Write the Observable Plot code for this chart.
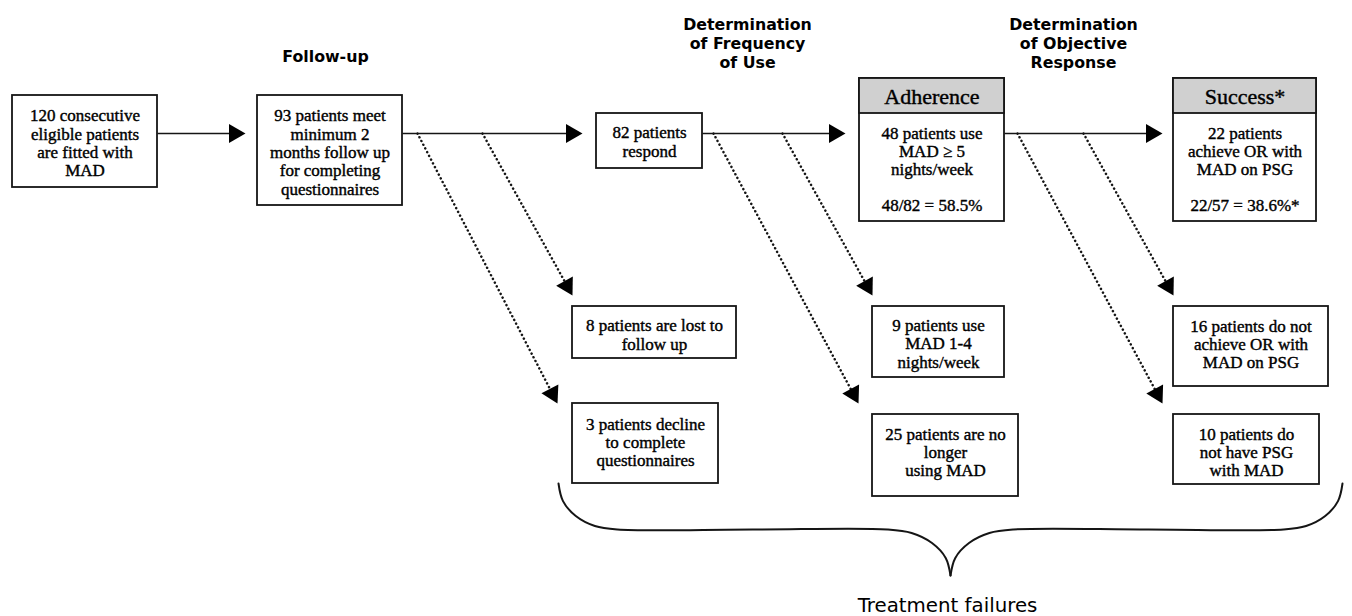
<!DOCTYPE html>
<html><head><meta charset="utf-8">
<script src="https://cdn.jsdelivr.net/npm/d3@7"></script>
<script src="https://cdn.jsdelivr.net/npm/@observablehq/plot@0.6"></script>
<style>html,body{margin:0;padding:0;background:#fff;overflow:hidden}#chart svg{display:block}</style>
</head><body><div id="chart"></div>
<script>
// ---------- content ----------
const stageTitles = ["Follow-up", "Determination\nof Frequency\nof Use", "Determination\nof Objective\nResponse"];
const nodeIds = ["fitted", "followup", "respond", "adherence", "success", "lost", "decline", "use14", "nolonger", "notOR", "noPSG"];
const nodeLabels = [
  "120 consecutive\neligible patients\nare fitted with\nMAD",
  "93 patients meet\nminimum 2\nmonths follow up\nfor completing\nquestionnaires",
  "82 patients\nrespond",
  "48 patients use\nMAD ≥ 5\nnights/week",
  "22 patients\nachieve OR with\nMAD on PSG",
  "8 patients are lost to\nfollow up",
  "3 patients decline\nto complete\nquestionnaires",
  "9 patients use\nMAD 1-4\nnights/week",
  "25 patients are no\nlonger\nusing MAD",
  "16 patients do not\nachieve OR with\nMAD on PSG",
  "10 patients do\nnot have PSG\nwith MAD"
];
const headedNodes = ["adherence", "success"];
const headerLabels = ["Adherence", "Success*"];
const rateLabels = ["48/82 = 58.5%", "22/57 = 38.6%*"];
const captionLabel = "Treatment failures";
// flows: main (solid) and exits (dotted)
const mainFlows = [["fitted", "followup"], ["followup", "respond"], ["respond", "adherence"], ["adherence", "success"]];
const exitFlows = [["followup", "decline"], ["followup", "lost"], ["respond", "nolonger"], ["respond", "use14"], ["adherence", "noPSG"], ["adherence", "notOR"]];

// ---------- layout (pixels) ----------
const W = 1352, H = 616;
const boxLeft   = [12, 257, 596, 859, 1173, 572, 572, 872, 872, 1173, 1173];
const boxRight  = [157, 402, 702, 1004, 1316, 736, 718, 1004, 1018, 1328, 1319];
const boxTop    = [95, 95, 113, 78, 78, 306, 403, 306, 414, 306, 414];
const boxBottom = [187, 205, 168, 221, 221, 358, 483, 377, 496, 386, 484];
const textY     = [142.5, 151.5, 141, 150.5, 150.5, 334, 441.5, 343, 451.5, 343.5, 451.5];
const headerBottom = 113, headerTextY = 96, rateTextY = 205;
const stageX = [325, 747, 1073], stageY = [55, 42, 42];
const flowY = 133;
const mainTipX = [245, 582, 845, 1162];
const exitStartX = [417, 482, 713, 782, 1017, 1083];
const exitTip = [[557, 403], [572, 295], [858, 403], [872, 295], [1162, 403], [1173, 295]];
const captionPos = [947, 605];
// brace (left half; right half mirrored about tipX)
const braceTipX = 950;
const braceLeftHalf = [[558, 483], [562.5, 500.6], [575.3, 515.5], [594.4, 525.5], [617, 529], [752, 529], [887, 529], [911.1, 532.5], [931.5, 542.5], [945.2, 557.4], [950, 575]];

// ---------- build ----------
const nodes = nodeIds.map((id, i) => ({id, label: nodeLabels[i], x1: boxLeft[i], x2: boxRight[i], y1: boxTop[i], y2: boxBottom[i], tx: (boxLeft[i] + boxRight[i]) / 2, ty: textY[i]}));
const byId = Object.fromEntries(nodes.map(d => [d.id, d]));
const headers = headedNodes.map((id, i) => ({...byId[id], label: headerLabels[i], rate: rateLabels[i]}));
const stages = stageTitles.map((t, i) => ({t, x: stageX[i], y: stageY[i]}));

const headLen = 16.5;
const headR = Math.sqrt(Math.sqrt(3) * headLen * headLen / 3 / Math.PI);
function arrow(x1, y1, tx, ty) {
  const dx = tx - x1, dy = ty - y1, L = Math.hypot(dx, dy), ux = dx / L, uy = dy / L;
  return {x1, y1, x2: tx - ux * headLen, y2: ty - uy * headLen,
          cx: tx - ux * headLen * 2 / 3, cy: ty - uy * headLen * 2 / 3,
          angle: Math.atan2(dx, -dy) * 180 / Math.PI};
}
const mainArrows = mainFlows.map(([a], i) => arrow(byId[a].x2, flowY, mainTipX[i], flowY));
const exitArrows = exitFlows.map((f, i) => arrow(exitStartX[i], flowY, exitTip[i][0], exitTip[i][1]));
const heads = [...mainArrows, ...exitArrows];

const brace = [
  ...braceLeftHalf.map(([x, y]) => ({x, y, side: "L"})),
  ...braceLeftHalf.map(([x, y]) => ({x: 2 * braceTipX - x, y, side: "R"}))
];

const serif = "Liberation Serif";
const ink = "#151515";
const thick = {stroke: "#000", strokeWidth: 0.4, paintOrder: "stroke"};

const chart = Plot.plot({
  width: W, height: H, margin: 0,
  x: {type: "identity", axis: null},
  y: {type: "identity", axis: null},
  style: {background: "#fff"},
  marks: [
    Plot.link(mainArrows, {x1: "x1", y1: "y1", x2: "x2", y2: "y2", stroke: ink, strokeWidth: 1.7}),
    Plot.link(exitArrows, {x1: "x1", y1: "y1", x2: "x2", y2: "y2", stroke: ink, strokeWidth: 2.5, strokeDasharray: "0.1,4.1", strokeLinecap: "round"}),
    Plot.dot(heads, {x: "cx", y: "cy", symbol: "triangle", r: headR, rotate: "angle", fill: "#000", stroke: "none"}),
    Plot.rect(nodes, {x1: "x1", x2: "x2", y1: "y1", y2: "y2", fill: "#fff", stroke: ink, strokeWidth: 1.8}),
    Plot.rect(headers, {x1: "x1", x2: "x2", y1: "y1", y2: headerBottom, fill: "#d0d0d0", stroke: ink, strokeWidth: 1.8}),
    Plot.text(nodes, {x: "tx", y: "ty", text: "label", fontFamily: serif, fontSize: 17, lineHeight: 1.08, fill: "#000", ...thick}),
    Plot.text(headers, {x: "tx", y: headerTextY, text: "label", fontFamily: serif, fontSize: 22, fill: "#000", ...thick}),
    Plot.text(headers, {x: "tx", y: rateTextY, text: "rate", fontFamily: serif, fontSize: 17, fill: "#000", ...thick}),
    Plot.text(stages, {x: "x", y: "y", text: "t", fontFamily: "DejaVu Sans", fontWeight: "bold", fontSize: 15.8, lineHeight: 1.2, fill: "#000"}),
    Plot.line(brace, {x: "x", y: "y", z: "side", curve: "catmull-rom", stroke: ink, strokeWidth: 2}),
    Plot.text([captionLabel], {x: captionPos[0], y: captionPos[1], text: d => d, fontFamily: "DejaVu Sans", fontSize: 19.8, fill: "#000"})
  ]
});
document.getElementById("chart").append(chart);
</script>
</body></html>
